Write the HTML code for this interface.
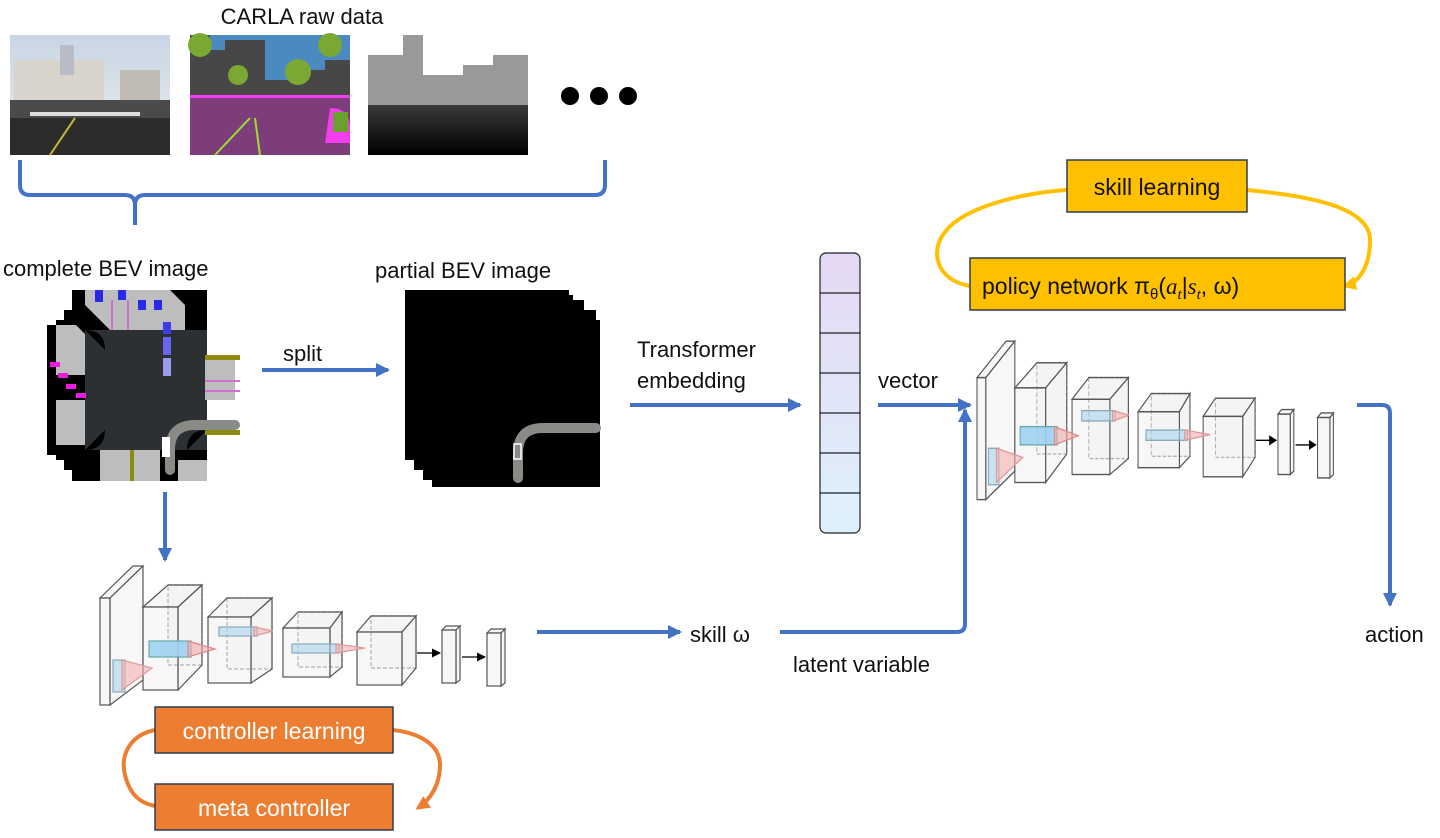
<!DOCTYPE html>
<html><head><meta charset="utf-8"><style>
body{margin:0;background:#fff;}
svg{display:block;font-family:"Liberation Sans","Noto Sans CJK SC",sans-serif;}
</style></head><body>
<svg width="1440" height="838" viewBox="0 0 1440 838" xmlns="http://www.w3.org/2000/svg">
<defs>
<marker id="ab" markerWidth="14" markerHeight="14" refX="12" refY="7" orient="auto" markerUnits="userSpaceOnUse"><path d="M0,0 L14,7 L0,14 z" fill="#4472C4"/></marker>
<marker id="ay" markerWidth="14" markerHeight="14" refX="11" refY="7" orient="auto" markerUnits="userSpaceOnUse"><path d="M0,0 L14,7 L0,14 z" fill="#FFC000"/></marker>
<marker id="ao" markerWidth="14" markerHeight="14" refX="11" refY="7" orient="auto" markerUnits="userSpaceOnUse"><path d="M0,0 L14,7 L0,14 z" fill="#ED7D31"/></marker>
<marker id="ak" markerWidth="9" markerHeight="9" refX="8" refY="4.5" orient="auto" markerUnits="userSpaceOnUse"><path d="M0,0 L9,4.5 L0,9 z" fill="#000"/></marker>
<linearGradient id="vg" x1="0" y1="0" x2="0" y2="1"><stop offset="0" stop-color="#E6D8F4"/><stop offset="1" stop-color="#DDF1FB"/></linearGradient>
<linearGradient id="sky" x1="0" y1="0" x2="0" y2="1"><stop offset="0" stop-color="#c9d6e4"/><stop offset="1" stop-color="#e9ecef"/></linearGradient>
<linearGradient id="dep" x1="0" y1="0" x2="0" y2="1"><stop offset="0" stop-color="#888"/><stop offset="1" stop-color="#000"/></linearGradient>
<g id="cnn" fill="#f2f2f2" fill-opacity="0.6" stroke="#555" stroke-width="1.2">
  <polygon points="100,598 133,566 143,566 110,598"/>
  <polygon points="110,598 143,566 143,680 110,705"/>
  <rect x="100" y="598" width="10" height="107"/>
  <rect x="168" y="585" width="34" height="80" stroke-dasharray="4,2"/>
  <polygon points="143,607 168,585 202,585 178,607"/>
  <polygon points="178,607 202,585 202,665 178,690"/>
  <rect x="143" y="607" width="35" height="83"/>
  <rect x="227" y="598" width="45" height="71" stroke-dasharray="4,2"/>
  <polygon points="208,617 227,598 272,598 251,617"/>
  <polygon points="251,617 272,598 272,669 251,683"/>
  <rect x="208" y="617" width="43" height="66"/>
  <rect x="298" y="612" width="44" height="55" stroke-dasharray="4,2"/>
  <polygon points="283,628 298,612 342,612 330,628"/>
  <polygon points="330,628 342,612 342,667 330,677"/>
  <rect x="283" y="628" width="47" height="49"/>
  <rect x="371" y="616" width="45" height="52" stroke-dasharray="4,2"/>
  <polygon points="357,632 371,616 416,616 402,632"/>
  <polygon points="402,632 416,616 416,668 402,685"/>
  <rect x="357" y="632" width="45" height="53"/>
  <polygon points="442,630 446,626 460,626 456,630"/>
  <polygon points="456,630 460,626 460,680 456,683"/>
  <rect x="442" y="630" width="14" height="53"/>
  <polygon points="487,633 491,629 505,629 501,633"/>
  <polygon points="501,633 505,629 505,683 501,686"/>
  <rect x="487" y="633" width="14" height="53"/>
  <line x1="417" y1="653" x2="440" y2="653" stroke="#000" marker-end="url(#ak)"/>
  <line x1="462" y1="657" x2="485" y2="657" stroke="#000" marker-end="url(#ak)"/>
  <rect x="149" y="641" width="42" height="16" fill="#9fd0f0" fill-opacity="0.9" stroke="#6aa"/>
  <polygon points="188,641 215,649 188,657" fill="#f4a8a8" stroke="#d88"/>
  <rect x="113" y="660" width="12" height="32" fill="#a9d4ee" stroke="#8ab"/>
  <polygon points="122,660 152,668 122,690" fill="#f4b0b0" stroke="#d99"/>
  <rect x="219" y="627" width="38" height="9" fill="#a9d4ee" stroke="#8ab"/>
  <polygon points="254,627 273,631 254,636" fill="#f4b0b0" stroke="#d99"/>
  <rect x="292" y="644" width="47" height="9" fill="#a9d4ee" stroke="#8ab"/>
  <polygon points="336,644 365,648 336,653" fill="#f4b0b0" stroke="#d99"/>
</g>
</defs>

<text x="302" y="24" font-size="22" text-anchor="middle" fill="#111">CARLA raw data</text>
<rect x="10" y="35" width="160" height="120" fill="url(#sky)"/>
<rect x="14" y="60" width="90" height="45" fill="#d8d4cc"/>
<rect x="60" y="45" width="14" height="30" fill="#b8bcc4"/>
<rect x="120" y="70" width="40" height="40" fill="#c0bcb4"/>
<rect x="10" y="100" width="160" height="55" fill="#4a4a48"/>
<rect x="10" y="118" width="160" height="37" fill="#2c2c2a"/>
<rect x="30" y="112" width="110" height="4" fill="#ddd"/>
<line x1="50" y1="155" x2="75" y2="118" stroke="#c9b43a" stroke-width="2"/>
<rect x="190" y="35" width="160" height="120" fill="#4a8ac0"/>
<path d="M190,35 h20 v15 h15 v-10 h40 v40 h30 v-10 h30 v-10 h25 v65 h-160z" fill="#474747"/>
<rect x="190" y="95" width="160" height="60" fill="#7d3d7a"/>
<rect x="190" y="95" width="160" height="3" fill="#f43cf0"/>
<circle cx="238" cy="75" r="10" fill="#7aa832"/><circle cx="298" cy="72" r="13" fill="#7aa832"/>
<circle cx="200" cy="45" r="12" fill="#7aa832"/><circle cx="330" cy="45" r="12" fill="#7aa832"/>
<path d="M330,108 q20,0 20,20 v15 h-25z" fill="#f43cf0"/>
<rect x="333" y="112" width="15" height="20" fill="#6aa02c"/>
<line x1="215" y1="155" x2="250" y2="118" stroke="#9ce02c" stroke-width="2"/>
<line x1="260" y1="155" x2="255" y2="118" stroke="#9ce02c" stroke-width="2"/>
<rect x="368" y="35" width="160" height="120" fill="url(#dep)"/>
<rect x="368" y="35" width="160" height="42" fill="#fff"/>
<path d="M368,55 h35 v-20 h20 v40 h40 v-10 h30 v-10 h35 v50 h-160z" fill="#999"/>
<circle cx="570" cy="96" r="9"/><circle cx="599" cy="96" r="9"/><circle cx="628" cy="96" r="9"/>
<path d="M20,160 v25 q0,10 10,10 h95 q10,0 10,10 v20 M135,205 q0,-10 10,-10 h450 q10,0 10,-10 v-25" fill="none" stroke="#4472C4" stroke-width="4"/>

<text x="3" y="276" font-size="22" fill="#111">complete BEV image</text>
<text x="375" y="278" font-size="22" fill="#111">partial BEV image</text>
<g>
<rect x="47" y="325" width="135" height="130" fill="#000"/>
<rect x="56" y="320" width="135" height="140" fill="#000"/>
<rect x="64" y="310" width="135" height="160" fill="#000"/>
<rect x="72" y="290" width="135" height="191" fill="#000"/>
<path d="M56,325 l20,0 l30,30 l0,20 l-50,0z" fill="#bdbdbd"/>
<path d="M56,400 l30,0 l20,25 l0,20 l-50,0z" fill="#bdbdbd"/>
<path d="M85,290 l85,0 l15,15 l0,30 l-70,0 l-30,-30z" fill="#bdbdbd"/>
<rect x="85" y="330" width="122" height="120" fill="#2c3033"/>
<path d="M85,330 q20,0 20,20 M207,430 q-20,0 -20,20 M85,450 q20,0 20,-20" fill="#000"/>
<rect x="205" y="360" width="30" height="40" fill="#bdbdbd"/>
<rect x="205" y="355" width="35" height="5" fill="#8e8a10"/><rect x="205" y="430" width="35" height="5" fill="#8e8a10"/>
<rect x="100" y="450" width="60" height="31" fill="#bdbdbd"/>
<rect x="178" y="460" width="29" height="21" fill="#bdbdbd"/>
<rect x="130" y="450" width="4" height="31" fill="#8e8a10"/>
<rect x="95" y="290" width="8" height="12" fill="#2a2ae6"/><rect x="118" y="290" width="8" height="10" fill="#2a2ae6"/>
<rect x="138" y="300" width="8" height="10" fill="#2a2ae6"/><rect x="154" y="300" width="8" height="10" fill="#2a2ae6"/>
<rect x="163" y="322" width="8" height="12" fill="#3c3ce8"/><rect x="163" y="337" width="8" height="18" fill="#6666ee"/><rect x="163" y="358" width="8" height="18" fill="#9b9bf0"/>
<rect x="50" y="362" width="10" height="5" fill="#e91ee0"/><rect x="58" y="373" width="10" height="5" fill="#e91ee0"/><rect x="66" y="384" width="10" height="5" fill="#e91ee0"/><rect x="76" y="393" width="10" height="5" fill="#e91ee0"/>
<rect x="205" y="380" width="35" height="2" fill="#d070d0"/><rect x="205" y="390" width="35" height="2" fill="#d070d0"/>
<line x1="112" y1="300" x2="112" y2="330" stroke="#d070d0" stroke-width="2"/><line x1="128" y1="300" x2="128" y2="330" stroke="#d070d0" stroke-width="2"/>
<path d="M170,470 v-20 q0,-25 25,-25 h40" fill="none" stroke="#8a8a86" stroke-width="10" stroke-linecap="round"/>
<rect x="162" y="437" width="8" height="20" fill="#fff"/>
</g>
<rect x="405" y="295" width="168" height="165" fill="#000"/>
<rect x="414" y="300" width="170" height="170" fill="#000"/>
<rect x="423" y="310" width="173" height="170" fill="#000"/>
<rect x="432" y="320" width="168" height="167" fill="#000"/>
<rect x="405" y="290" width="164" height="165" fill="#000"/>
<path d="M518,478 v-25 q0,-25 25,-25 h53" fill="none" stroke="#8a8a86" stroke-width="10" stroke-linecap="round"/>
<rect x="514" y="444" width="7" height="15" fill="none" stroke="#fff" stroke-width="1.5"/>

<text x="283" y="361" font-size="22" fill="#111">split</text>
<line x1="262" y1="370" x2="388" y2="370" stroke="#4472C4" stroke-width="4" marker-end="url(#ab)"/>
<text x="637" y="357" font-size="22" fill="#111">Transformer</text>
<text x="637" y="388" font-size="22" fill="#111">embedding</text>
<line x1="630" y1="405" x2="800" y2="405" stroke="#4472C4" stroke-width="4" marker-end="url(#ab)"/>
<rect x="820" y="253" width="40" height="280" rx="6" fill="url(#vg)" stroke="#222" stroke-width="1.2"/>
<g stroke="#222" stroke-width="1.2"><line x1="820" y1="293" x2="860" y2="293"/><line x1="820" y1="333" x2="860" y2="333"/><line x1="820" y1="373" x2="860" y2="373"/><line x1="820" y1="413" x2="860" y2="413"/><line x1="820" y1="453" x2="860" y2="453"/><line x1="820" y1="493" x2="860" y2="493"/></g>
<text x="878" y="388" font-size="22" fill="#111">vector</text>
<line x1="878" y1="405" x2="970" y2="405" stroke="#4472C4" stroke-width="4" marker-end="url(#ab)"/>

<use href="#cnn"/>
<use href="#cnn" transform="translate(977,340) scale(0.88,1.14) translate(-100,-565)"/>

<line x1="165" y1="492" x2="165" y2="560" stroke="#4472C4" stroke-width="4" marker-end="url(#ab)"/>
<line x1="537" y1="632" x2="680" y2="632" stroke="#4472C4" stroke-width="4" marker-end="url(#ab)"/>
<text x="690" y="642" font-size="22" fill="#111">skill ω</text>
<path d="M780,632 h177 q8,0 8,-8 v-214" fill="none" stroke="#4472C4" stroke-width="4" marker-end="url(#ab)"/>
<text x="793" y="672" font-size="22" fill="#111">latent variable</text>
<path d="M1357,405 h25 q8,0 8,8 v192" fill="none" stroke="#4472C4" stroke-width="4" marker-end="url(#ab)"/>
<text x="1365" y="642" font-size="22" fill="#111">action</text>

<path d="M970,286 C935,280 930,250 945,232 C965,205 1030,192 1067,190" fill="none" stroke="#FFC000" stroke-width="4"/>
<path d="M1247,190 C1300,195 1370,205 1370,240 C1370,265 1360,282 1345,286" fill="none" stroke="#FFC000" stroke-width="4" marker-end="url(#ay)"/>
<rect x="1067" y="160" width="180" height="52" fill="#FFC000" stroke="#2F3B55" stroke-width="1.5"/>
<text x="1157" y="195" font-size="23" text-anchor="middle" fill="#111">skill learning</text>
<rect x="970" y="258" width="375" height="52" fill="#FFC000" stroke="#2F3B55" stroke-width="1.5"/>
<text x="982" y="294" font-size="23" fill="#111">policy network π<tspan font-size="15" dy="5">θ</tspan><tspan dy="-5">(</tspan><tspan font-family="Liberation Serif" font-style="italic">a</tspan><tspan font-family="Liberation Serif" font-style="italic" font-size="15" dy="5">t</tspan><tspan dy="-5">|</tspan><tspan font-family="Liberation Serif" font-style="italic">s</tspan><tspan font-family="Liberation Serif" font-style="italic" font-size="15" dy="5">t</tspan><tspan dy="-5">, ω)</tspan></text>

<path d="M155,730 C130,735 120,755 125,775 C130,795 140,803 155,806" fill="none" stroke="#ED7D31" stroke-width="4"/>
<path d="M393,730 C420,733 440,745 440,765 C440,785 430,800 418,808" fill="none" stroke="#ED7D31" stroke-width="4" marker-end="url(#ao)"/>
<rect x="155" y="707" width="238" height="46" fill="#ED7D31" stroke="#2F3B55" stroke-width="1.5"/>
<text x="274" y="739" font-size="23" text-anchor="middle" fill="#fff">controller learning</text>
<rect x="155" y="784" width="238" height="46" fill="#ED7D31" stroke="#2F3B55" stroke-width="1.5"/>
<text x="274" y="816" font-size="23" text-anchor="middle" fill="#fff">meta controller</text>
</svg>
</body></html>
